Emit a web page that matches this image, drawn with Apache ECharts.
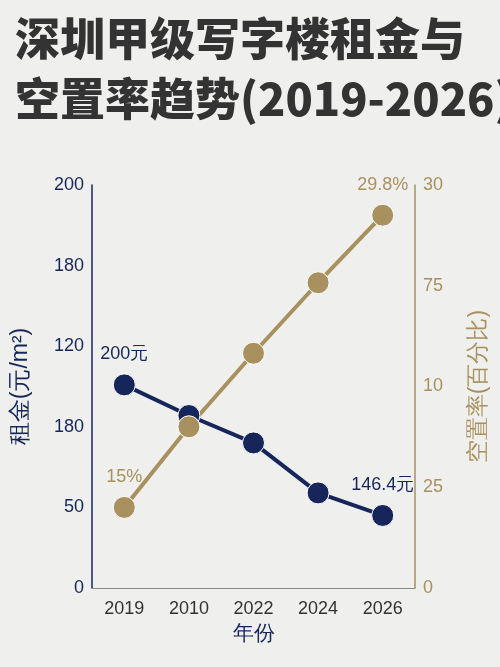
<!DOCTYPE html>
<html><head><meta charset="utf-8">
<script src="https://cdn.jsdelivr.net/npm/echarts@6/dist/echarts.min.js"></script>
<style>html,body{margin:0;padding:0;background:#efefed;}#c{width:500px;height:667px;}</style>
</head><body><div id="c"></div>
<script>
const years = ['2019','2010','2022','2024','2026'];
const rent = [126, 107, 90, 59, 45];
const vacancy = [8.0, 16.0, 23.3, 30.3, 37.0];
const leftTicks = ['0','50','180','120','180','200'];
const rightTicks = ['0','25','10','75','30'];
const navy = '#16265a', gold = '#a8915e';
const chart = echarts.init(document.getElementById('c'));
chart.setOption({
  backgroundColor: '#efefed',
  title: {text: '深圳甲级写字楼租金与\n空置率趋势(2019-2026)', left: 10, top: 4,
    textStyle: {fontSize: 45, fontWeight: 900, color: '#333', lineHeight: 60, fontFamily: 'Noto Sans CJK SC'}},
  grid: {left: 92, right: 85, top: 185, bottom: 79},
  xAxis: {type: 'category', data: years, name: '年份', nameLocation: 'middle', nameGap: 36,
    nameTextStyle: {fontSize: 21, color: navy},
    axisLine: {lineStyle: {color: '#888'}}, axisTick: {show: false},
    axisLabel: {fontSize: 18, color: '#333', margin: 12}},
  yAxis: [
    {type: 'value', min: 0, max: 250, interval: 50, name: '租金(元/m²)', nameLocation: 'middle', nameGap: 60,
      nameTextStyle: {fontSize: 23, color: navy},
      axisLine: {show: true, lineStyle: {color: navy, width: 1.5}}, splitLine: {show: false},
      axisLabel: {fontSize: 18, color: navy, formatter: (v) => leftTicks[Math.round(v/50)]}},
    {type: 'value', min: 0, max: 40, interval: 10, name: '空置率(百分比)', nameLocation: 'middle', nameGap: 52, nameRotate: 90,
      nameTextStyle: {fontSize: 23, color: gold},
      axisLine: {show: true, lineStyle: {color: gold, width: 1.5}}, splitLine: {show: false},
      axisLabel: {fontSize: 18, color: gold, formatter: (v) => rightTicks[Math.round(v/10)]}}
  ],
  series: [
    {type: 'line', data: rent, yAxisIndex: 0, symbol: 'circle', symbolSize: 22,
      lineStyle: {color: navy, width: 4}, itemStyle: {color: navy, borderColor: '#fff', borderWidth: 1},
      label: {show: true, position: 'top', fontSize: 18, color: navy, distance: 10,
        formatter: (p) => p.dataIndex === 0 ? '200元' : (p.dataIndex === 4 ? '146.4元' : '')}},
    {type: 'line', data: vacancy, yAxisIndex: 1, symbol: 'circle', symbolSize: 22,
      lineStyle: {color: gold, width: 4}, itemStyle: {color: gold, borderColor: '#fff', borderWidth: 1},
      label: {show: true, position: 'top', fontSize: 18, color: gold, distance: 10,
        formatter: (p) => p.dataIndex === 0 ? '15%' : (p.dataIndex === 4 ? '29.8%' : '')}}
  ]
});
</script></body></html>
